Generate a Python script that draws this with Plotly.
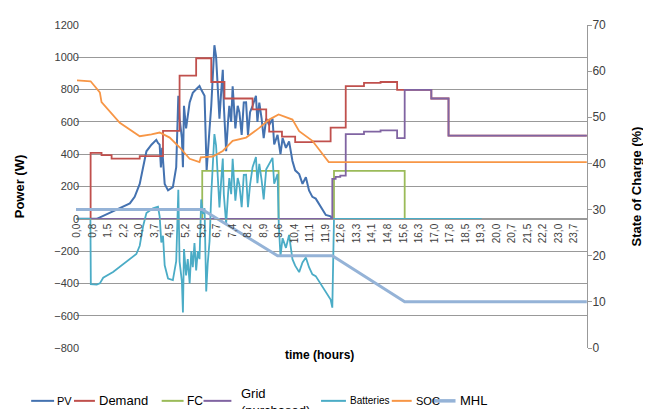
import plotly.graph_objects as go

# ---------------- data (time in hours) ----------------
tick_labels = ["0,0", "0,8", "1,5", "2,2", "3,0", "3,7", "4,5", "5,2", "5,9", "6,7", "7,4",
               "8,2", "8,9", "9,6", "10,4", "11,1", "11,9", "12,6", "13,3", "14,1", "14,8",
               "15,6", "16,3", "17,0", "17,8", "18,5", "19,3", "20,0", "20,7", "21,5", "22,2",
               "23,0", "23,7"]

pv_t = [0, 0.94, 1.25, 1.72, 2.20, 2.52, 2.75, 2.99, 3.15, 3.31, 3.55, 3.78, 3.86, 3.94, 4.00,
        4.06, 4.18, 4.34, 4.57, 4.73, 4.83, 4.89, 5.0, 5.05, 5.1, 5.2, 5.37, 5.52, 5.68, 5.84,
        5.92, 6.08, 6.18, 6.23, 6.32, 6.40, 6.47, 6.55, 6.63, 6.71, 6.79, 6.87, 6.95, 7.0, 7.11,
        7.2, 7.26, 7.35, 7.42, 7.55, 7.66, 7.74, 7.85, 7.95, 8.06, 8.15, 8.25, 8.37, 8.53, 8.6,
        8.69, 8.8, 8.9, 9.02, 9.16, 9.32, 9.4, 9.56, 9.7, 9.8, 9.96, 10.11, 10.27, 10.40, 10.59,
        10.75, 10.91, 11.06, 11.22, 11.38, 11.62, 11.86, 12.09, 12.17]
pv_w = [0, 0, 18, 45, 75, 95, 136, 216, 318, 418, 459, 489, 470, 459, 318,
        440, 216, 176, 196, 320, 762, 622, 500, 320, 700, 560, 721, 780, 802, 822,
        800, 762, 300, 418, 560, 700, 923, 1075, 1004, 800, 620, 780, 923, 700, 418,
        600, 700, 600, 820, 560, 700, 660, 520, 720, 721, 520, 660, 700, 762, 600,
        720, 620, 500, 620, 580, 620, 460, 520, 400, 500, 439, 479, 358, 300, 277,
        216, 257, 176, 136, 125, 75, 24, 15, 0]

demand_t = [0, 0.65, 1.17, 1.65, 2.99, 4.10, 4.89, 5.68, 6.40, 7.03, 8.37, 9.02, 9.16, 9.77,
            10.40, 11.22, 12.09, 12.81, 13.68, 14.47, 15.26, 15.62, 16.89, 17.71, 24.3]
demand_w = [0, 408, 394, 372, 388, 545, 887, 994, 847, 745, 677, 610, 540, 509,
            475, 480, 564, 822, 842, 847, 798, 798, 745, 515, 515]

fc_t = [0, 5.97, 9.61, 12.25, 15.62]
fc_w = [0, 297, 0, 297, 0]

grid_t = [0, 12.17, 12.33, 12.55, 12.81, 13.68, 14.47, 15.26, 15.62, 16.89, 17.71, 24.3]
grid_w = [0, 247, 260, 267, 524, 540, 548, 500, 798, 745, 515, 515]

bat_t = [0, 0.64, 0.66, 0.94, 1.09, 1.25, 1.72, 2.20, 2.52, 2.83, 2.99, 3.15, 3.31, 3.62, 3.86,
         3.94, 4.02, 4.10, 4.18, 4.34, 4.57, 4.73, 4.83, 4.89, 5.0, 5.05, 5.1, 5.2, 5.28, 5.37,
         5.45, 5.52, 5.60, 5.68, 5.76, 5.84, 5.92, 6.00, 6.08, 6.16, 6.23, 6.32, 6.40, 6.47,
         6.55, 6.63, 6.71, 6.79, 6.87, 6.95, 7.0, 7.11, 7.2, 7.26, 7.35, 7.42, 7.55, 7.66, 7.74,
         7.85, 7.95, 8.06, 8.15, 8.25, 8.37, 8.53, 8.6, 8.69, 8.8, 8.9, 9.02, 9.16, 9.32, 9.4,
         9.56, 9.62, 9.7, 9.8, 9.96, 10.11, 10.27, 10.40, 10.59, 10.75, 10.91, 11.06, 11.22,
         11.38, 11.62, 11.86, 12.09, 12.17, 12.25, 19.29]
bat_w = [0, 0, -405, -408, -400, -365, -329, -279, -248, -218, -167, -46, 35, 65, 75,
         15, -147, -105, -288, -370, -380, -263, 180, -265, -387, -580, -187, -350, -250, -400,
         -200, -300, -150, -320, -200, -250, 120, 30, 65, -450, -279, -137, 150, 373,
         525, 454, 250, 70, 230, 373, 150, -30, 152, 252, 152, 372, 112, 252, 212,
         72, 272, 273, 72, 212, 320, 382, 220, 340, 240, 120, 307, 337, 377, 217,
         277, -40, -230, -120, -180, -100, -250, -290, -330, -270, -240, -300, -344,
         -355, -405, -456, -500, -550, 0, 0]

soc_t = [0, 0.65, 1.09, 1.17, 2.04, 2.99, 3.55, 3.94, 4.42, 4.89, 5.37, 5.84, 5.90, 6.47, 6.95,
         7.42, 8.06, 8.69, 9.16, 9.61, 10.27, 10.59, 11.22, 11.93, 12.0, 24.3]
soc_pct = [58.0, 57.8, 55.4, 53.3, 48.8, 45.9, 46.3, 46.7, 45.6, 43.5, 41.0, 40.3, 41.3, 41.5, 42.7,
           44.9, 45.6, 47.7, 49.5, 50.6, 49.5, 47.0, 44.9, 40.6, 40.3, 40.3]

mhl_t = [-0.05, 5.97, 9.56, 12.17, 15.62, 24.3]
mhl_pct = [30, 30, 20, 20, 10, 10]

# ---------------- figure ----------------
LABEL_STEP = 23.7 / 32
tick_pos = [i * LABEL_STEP for i in range(len(tick_labels))]

C_PV, C_DEM, C_FC, C_GRID = "#4472B0", "#C0504D", "#9BBB59", "#8064A2"
C_BAT, C_SOC, C_MHL = "#4BACC6", "#F79646", "#95B3D7"

fig = go.Figure()
fig.add_trace(go.Scatter(x=pv_t, y=pv_w, mode="lines", name="PV", line=dict(color=C_PV, width=2)))
fig.add_trace(go.Scatter(x=demand_t, y=demand_w, mode="lines", name="Demand",
                         line=dict(color=C_DEM, width=1.8, shape="hv")))
fig.add_trace(go.Scatter(x=fc_t, y=fc_w, mode="lines", name="FC",
                         line=dict(color=C_FC, width=1.8, shape="hv")))
fig.add_trace(go.Scatter(x=grid_t, y=grid_w, mode="lines", name="Grid (purchased)",
                         line=dict(color=C_GRID, width=1.8, shape="hv")))
fig.add_trace(go.Scatter(x=bat_t, y=bat_w, mode="lines", name="Batteries",
                         line=dict(color=C_BAT, width=1.8)))
fig.add_trace(go.Scatter(x=soc_t, y=soc_pct, mode="lines", name="SOC", yaxis="y2",
                         line=dict(color=C_SOC, width=1.8)))
fig.add_trace(go.Scatter(x=mhl_t, y=mhl_pct, mode="lines", name="MHL", yaxis="y2",
                         line=dict(color=C_MHL, width=3)))

GRAY = "#999999"
# the page has an 8px body margin, so the figure is 8px smaller and margins reduced by 8
fig.update_layout(
    width=643, height=401,
    margin=dict(l=68, r=62, t=10, b=61),
    plot_bgcolor="white", paper_bgcolor="white",
    showlegend=False,
    font=dict(family="Arial, Liberation Sans", color="#404040"),
    xaxis=dict(range=[-0.047, 24.31], tickmode="array", tickvals=tick_pos, ticktext=tick_labels,
               tickangle=-90, anchor="free", position=0.4, showline=True, linecolor=GRAY,
               linewidth=1, showgrid=False, zeroline=False, ticks="",
               tickfont=dict(size=10, color="#404040")),
    yaxis=dict(range=[-800, 1200], dtick=200, showgrid=True, gridcolor=GRAY, gridwidth=1,
               zeroline=False, ticks="", ticklabelstandoff=-4, showline=False,
               tickfont=dict(size=11, color="#404040"),
               title=dict(text="<b>Power (W)</b>", font=dict(size=13, color="#000000"), standoff=26)),
    yaxis2=dict(range=[0, 70], dtick=10, overlaying="y", side="right", showgrid=False,
                zeroline=False, showline=True, linecolor=GRAY, ticks="outside", ticklen=4,
                tickcolor=GRAY, ticklabelstandoff=-2, tickfont=dict(size=12, color="#404040"),
                title=dict(text="<b>State of Charge (%)</b>", font=dict(size=13, color="#000000"),
                           standoff=26)),
)

# x axis title
fig.add_annotation(text="<b>time (hours)</b>", x=0.4766, y=-0.0203, xref="paper", yref="paper",
                   showarrow=False, font=dict(size=12, color="#000000"), xanchor="center",
                   yanchor="middle")

# manual legend (page pixel positions converted to paper coords)
def px_x(p):
    return (p - 76) / 513.0

def px_y(p):
    return (348.3 - p) / 330.0

legend_items = [
    (31, 54, 55, "PV", C_PV, 2, 11),
    (74, 95, 97, "Demand", C_DEM, 2, 13),
    (162, 184, 185, "FC", C_FC, 2, 12),
    (204, 232, 240, "Grid<br>(purchased)", C_GRID, 2, 13),
    (322, 347, 349, "Batteries", C_BAT, 2, 10),
    (393, 413, 415, "SOC", C_SOC, 2, 11),
    (433, 457, 459, "MHL", C_MHL, 3.5, 13),
]
LY = 402.3
for x0, x1, tx, label, col, w, fs in legend_items:
    fig.add_shape(type="line", xref="paper", yref="paper", x0=px_x(x0), x1=px_x(x1),
                  y0=px_y(LY), y1=px_y(LY), line=dict(color=col, width=w))
    if label.startswith("Grid"):
        fig.add_annotation(text=label, x=px_x(tx), y=px_y(385), xref="paper", yref="paper",
                           showarrow=False, xanchor="left", yanchor="top", align="left",
                           font=dict(size=fs, color="#000000"))
    else:
        fig.add_annotation(text=label, x=px_x(tx), y=px_y(LY), xref="paper", yref="paper",
                           showarrow=False, xanchor="left", yanchor="middle",
                           font=dict(size=fs, color="#000000"))

fig.write_html("out.html")
